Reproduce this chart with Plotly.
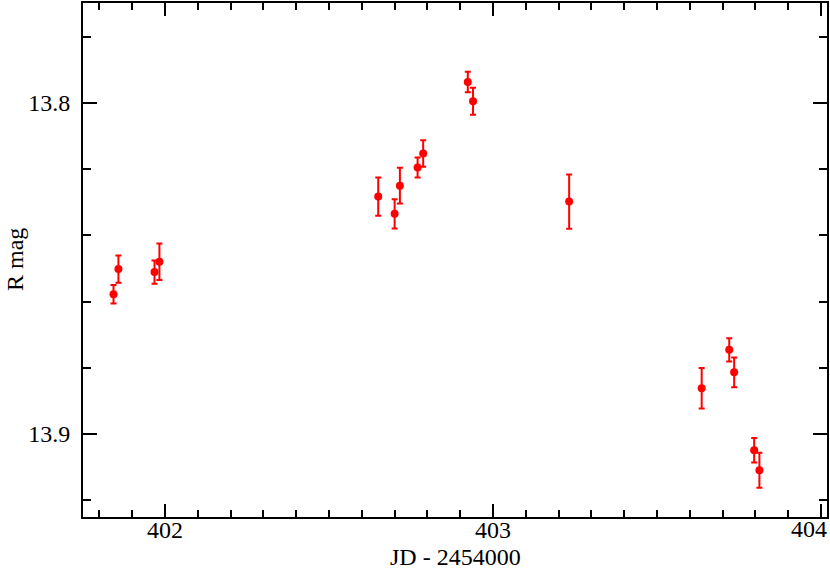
import plotly.graph_objects as go

jd = [401.843, 401.858, 401.968, 401.983, 402.650, 402.700, 402.716, 402.770,
      402.787, 402.923, 402.939, 403.232, 403.636, 403.720, 403.735, 403.796, 403.812]
rmag = [13.8578, 13.8502, 13.8511, 13.8480, 13.8283, 13.8335, 13.8250, 13.8195,
        13.8153, 13.7937, 13.7995, 13.8298, 13.8862, 13.8746, 13.8814, 13.9049, 13.9110]
rerr = [0.0028, 0.0041, 0.0035, 0.0055, 0.0058, 0.0044, 0.0054, 0.0030,
        0.0040, 0.0031, 0.0041, 0.0082, 0.0061, 0.0035, 0.0045, 0.0037, 0.0053]
xticks = [402, 403, 404]
yticks = [13.8, 13.9]

fig = go.Figure()
fig.add_trace(go.Scatter(
    x=jd, y=rmag, mode="markers",
    marker=dict(color="red", size=8, symbol="circle"),
    error_y=dict(type="data", array=rerr, visible=True, color="red", thickness=2, width=3),
    showlegend=False,
))

font = "Liberation Serif"
axis_common = dict(
    showline=True, linecolor="black", linewidth=2, mirror="allticks",
    ticks="inside", tickcolor="black", tickwidth=2,
    showgrid=False, zeroline=False, automargin=False,
    tickfont=dict(family=font, size=24, color="black"),
)
# last x tick label is drawn as an annotation so it stays inside the page, as in the reference
fig.update_xaxes(
    range=[401.75, 404.018], tickmode="array", tickvals=xticks,
    ticktext=[str(v) for v in xticks[:-1]] + [""], ticklen=13, ticklabelstandoff=-10,
    minor=dict(dtick=0.1, tick0=0, ticks="inside", ticklen=7, tickcolor="black", tickwidth=2),
    **axis_common,
)
fig.update_yaxes(
    range=[13.9251, 13.7698], tickmode="array", tickvals=yticks,
    ticktext=[f"{v:.1f}" for v in yticks], ticklen=14, ticklabelstandoff=6,
    minor=dict(dtick=0.02, tick0=13.8, ticks="inside", ticklen=8, tickcolor="black", tickwidth=2),
    **axis_common,
)
fig.add_annotation(text=str(xticks[-1]), xref="paper", yref="paper", x=1, y=0,
                   xshift=2, yshift=-12, xanchor="right", yanchor="middle", showarrow=False,
                   font=dict(family=font, size=24, color="black"))
fig.add_annotation(text="JD - 2454000", xref="paper", yref="paper", x=0.5, y=0,
                   yshift=-40, xanchor="center", yanchor="middle", showarrow=False,
                   font=dict(family=font, size=24, color="black"))
fig.add_annotation(text="R mag", xref="paper", yref="paper", x=0, y=0.5,
                   xshift=-68, xanchor="center", yanchor="middle", textangle=-90,
                   showarrow=False, font=dict(family=font, size=24, color="black"))
fig.update_layout(
    width=830, height=570,
    margin=dict(l=83, r=3, t=3, b=53),
    paper_bgcolor="white", plot_bgcolor="white",
)
fig.write_html("out.html", config={"displayModeBar": False},
               post_script="document.body.style.margin='0';")
